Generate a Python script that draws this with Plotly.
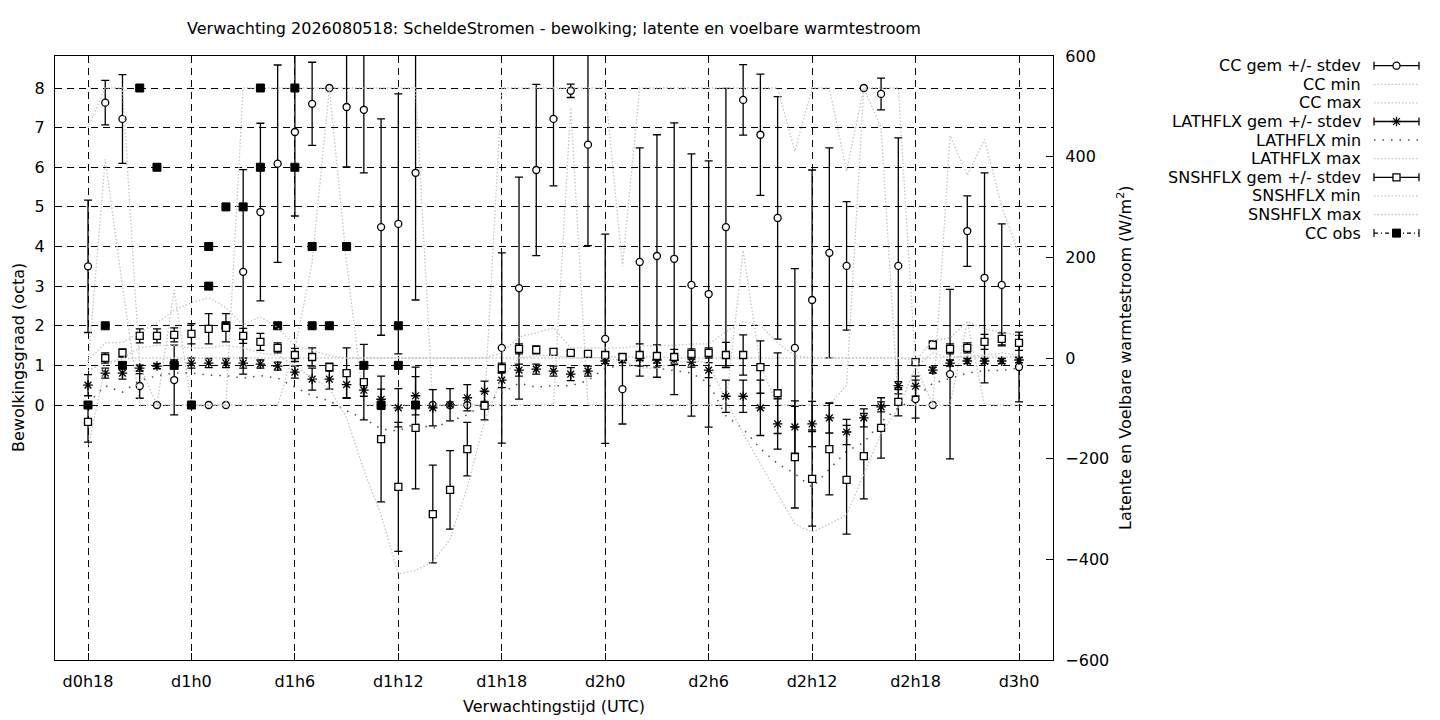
import plotly.graph_objects as go

# uren vanaf d0h0
hours = list(range(18, 73))
tick_hours = [18, 24, 30, 36, 42, 48, 54, 60, 66, 72]
tick_labels = ["d0h18", "d1h0", "d1h6", "d1h12", "d1h18", "d2h0", "d2h6", "d2h12", "d2h18", "d3h0"]

# bewolking (octa)
cc_mean = [3.5, 7.63, 7.22, 0.48, 0, 0.63, 0, 0, 0, 3.36,
           4.87, 6.09, 6.89, 7.6, 8.0, 7.52, 7.45, 4.49, 4.57, 5.86,
           0, 0, 0, 0, 1.44, 2.95, 5.93, 7.22, 7.93, 6.57,
           1.67, 0.4, 3.61, 3.76, 3.69, 3.03, 2.8, 4.49, 7.7, 6.82,
           4.72, 1.44, 2.65, 3.84, 3.51, 8.0, 7.85, 3.51, 0.15, 0,
           0.78, 4.39, 3.21, 3.03, 0.96]
cc_std = [1.67, 0.56, 1.12, 0.31, 0, 0.88, 0, 0, 0, 2.58,
          2.24, 2.49, 2.12, 1.05, 0, 1.51, 1.59, 2.73, 3.28, 3.21,
          0, 0, 0, 0, 2.4, 2.8, 2.16, 1.69, 0.17, 2.55,
          2.64, 0.88, 2.88, 3.06, 3.43, 3.31, 3.36, 3.5, 0.89, 1.53,
          3.06, 2.0, 3.28, 2.65, 1.62, 0, 0.4, 3.23, 0.48, 0,
          2.14, 0.89, 2.65, 1.54, 0.88]
cc_min = [1, 6.2, 3, 0, 0, 0, 0, 0, 0, 0,
          0, 0, 1.4, 3.6, 8, 3.6, 0, 0, 0, 0,
          0, 0, 0, 0, 0, 0, 0, 0, 7.5, 0,
          0, 0, 0, 0, 0, 0, 0, 0, 3.9, 1,
          0, 0, 0, 0, 0.5, 8, 7, 0, 0, 0,
          0, 2.1, 0, 0, 0]
cc_max = [7, 8, 8, 1, 0, 2.9, 0, 0, 0, 8,
          8, 8, 8, 8, 8, 8, 8, 8, 8, 8,
          0, 0, 0, 0, 8, 8, 8, 8, 8, 8,
          8, 3.5, 8, 8, 8, 8, 8, 8, 8, 8,
          8, 6.4, 8, 8, 5.9, 8, 8, 8, 1, 0,
          6.8, 5.8, 6.7, 5, 3.8]

# latente warmtestroom (W/m2)
lat_mean = [-54, -30, -30, -20, -16, -10, -10, -10, -10, -10,
            -12, -16, -28, -42, -42, -53, -64, -82, -99, -75,
            -99, -93, -79, -66, -44, -24, -22, -26, -32, -26,
            -6, -4, 0, -4, -4, -8, -24, -76, -76, -99,
            -131, -137, -131, -119, -147, -119, -97, -55, -56, -24,
            -10, -6, -6, -6, -4]
lat_std = [21, 10, 12, 6, 5, 6, 10, 9, 9, 10,
           8, 8, 12, 22, 20, 26, 12, 20, 38, 38,
           36, 32, 26, 20, 15, 12, 10, 10, 13, 10,
           5, 5, 5, 6, 8, 10, 15, 32, 32, 55,
           50, 52, 45, 30, 25, 18, 10, 8, 20, 6,
           6, 5, 5, 5, 5]
lat_min = [-90, -55, -68, -45, -35, -30, -30, -34, -35, -40,
           -35, -40, -58, -75, -85, -105, -120, -141, -145, -130,
           -140, -125, -113, -90, -70, -50, -58, -55, -55, -45,
           -20, -15, -15, -20, -25, -30, -50, -115, -141, -180,
           -210, -230, -257, -220, -185, -168, -127, -99, -80, -50,
           -41, -30, -25, -25, -20]
lat_max = [-25, -10, -2, 0, 0, 0, 0, 0, 0, 0,
           0, 0, 0, 0, 0, 0, 0, 0, 0, 0,
           0, 0, 0, 0, 0, 0, 0, 0, 0, 0,
           2, 2, 2, 2, 0, 0, 0, 0, 0, 0,
           0, 0, 0, 0, 0, 0, 0, 0, 0, 0,
           2, 2, 2, 2, 2]

# voelbare warmtestroom (W/m2)
sns_mean = [-127, 0, 10, 44, 44, 46, 48, 58, 60, 44,
            32, 20, 6, 2, -18, -30, -48, -161, -256, -139,
            -310, -262, -181, -95, -20, 18, 16, 12, 10, 8,
            6, 2, 6, 4, 2, 8, 10, 6, 6, -18,
            -70, -197, -240, -181, -242, -195, -139, -87, -8, 26,
            18, 20, 32, 38, 30]
sns_std = [40, 10, 8, 14, 14, 14, 20, 30, 28, 15,
           17, 10, 13, 18, 8, 50, 75, 125, 128, 121,
           97, 78, 53, 28, 10, 10, 8, 6, 4, 4,
           4, 4, 22, 22, 15, 10, 10, 25, 40, 52,
           80, 101, 94, 91, 108, 85, 60, 28, 5, 8,
           10, 10, 15, 12, 15]
sns_min = [-180, -15, 0, 20, 25, 25, 20, 20, 25, 20,
           10, 5, -15, -40, -60, -119, -223, -312, -429, -422,
           -405, -360, -257, -125, -40, 0, 5, 5, 0, 0,
           0, -5, -20, -20, -10, -5, -10, -85, -150, -210,
           -270, -330, -346, -330, -312, -230, -150, -100, -18, 10,
           0, 5, 5, 10, 5]
sns_max = [-5, 30, 31, 50, 70, 95, 110, 120, 100, 66,
           82, 60, 24, 15, 5, 0, 0, 0, 0, 0,
           0, 0, 0, 0, 10, 42, 50, 60, 20, 20,
           20, 20, 24, 25, 25, 28, 28, 52, 72, 65,
           30, 5, 0, 0, 0, 0, 0, 0, -5, 35,
           40, 72, 58, 52, 45]

# waarnemingen bewolking
obs_hours = [18, 19, 20, 21, 22, 23, 24, 25, 25, 26, 26, 27, 28, 28, 29, 30, 30, 31, 31, 32, 33, 34, 35, 36, 36, 37]
obs_cc = [0, 2, 1, 8, 6, 1, 0, 4, 3, 5, 2, 5, 8, 6, 2, 8, 6, 4, 2, 2, 4, 1, 0, 2, 1, 0]

FONT = "DejaVu Sans"
W, H = 1440, 720
L, R, T, B = 55, 1053, 56, 660   # plotgebied in pixels

light = "#c4c4c4"
dark = "#505050"
dotted = dict(color=light, width=1.3, dash="1.5px,2px")
sparse = dict(color=dark, width=1.5, dash="1.5px,7px")
eb = dict(type="data", color="black", thickness=1.3, width=4)

circle = dict(symbol="circle", size=7, color="white", line=dict(color="black", width=1.3))
star = dict(symbol="asterisk-open", size=8, color="black", line=dict(color="black", width=1.3))
square = dict(symbol="square", size=7, color="white", line=dict(color="black", width=1.3))
solid_sq = dict(symbol="square", size=8, color="black", line=dict(color="black", width=1))

fig = go.Figure()

fig.add_trace(go.Scatter(x=hours, y=cc_mean, mode="markers", marker=circle,
                         error_y=dict(array=cc_std, **eb)))
fig.add_trace(go.Scatter(x=hours, y=cc_min, mode="lines", line=dotted))
fig.add_trace(go.Scatter(x=hours, y=cc_max, mode="lines", line=dotted))
fig.add_trace(go.Scatter(x=hours, y=lat_mean, mode="markers", marker=star, yaxis="y2",
                         error_y=dict(array=lat_std, **eb)))
fig.add_trace(go.Scatter(x=hours, y=lat_min, mode="lines", line=sparse, yaxis="y2"))
fig.add_trace(go.Scatter(x=hours, y=lat_max, mode="lines", line=dotted, yaxis="y2"))
fig.add_trace(go.Scatter(x=hours, y=sns_mean, mode="markers", marker=square, yaxis="y2",
                         error_y=dict(array=sns_std, **eb)))
fig.add_trace(go.Scatter(x=hours, y=sns_min, mode="lines", line=dotted, yaxis="y2"))
fig.add_trace(go.Scatter(x=hours, y=sns_max, mode="lines", line=dotted, yaxis="y2"))
fig.add_trace(go.Scatter(x=obs_hours, y=obs_cc, mode="markers", marker=solid_sq))

# legenda in gnuplot-stijl: tekst rechts uitgelijnd, symbool erachter
leg_names = ["CC gem +/- stdev", "CC min", "CC max", "LATHFLX gem +/- stdev", "LATHFLX min",
             "LATHFLX max", "SNSHFLX gem +/- stdev", "SNSHFLX min", "SNSHFLX max", "CC obs"]
leg_kind = ["err", "line", "line", "err", "line", "line", "err", "line", "line", "obs"]
leg_marker = [circle, None, None, star, None, None, square, None, None, solid_sq]
leg_line = [None, dotted, dotted, None, sparse, dotted, None, dotted, dotted, None]
leg_y = [65.7 + 18.6 * i for i in range(len(leg_names))]
sx0, sx1 = 1374, 1419
sxm = (sx0 + sx1) / 2

tfont = dict(family=FONT, size=16, color="black")
annotations = []
for name, kind, mk, ln, yy in zip(leg_names, leg_kind, leg_marker, leg_line, leg_y):
    annotations.append(dict(x=1363, y=yy, xref="x3", yref="y3", text=name, showarrow=False,
                            xanchor="right", yanchor="middle", font=tfont))
    if kind == "line":
        fig.add_trace(go.Scatter(x=[sx0, sx1], y=[yy, yy], mode="lines", line=ln,
                                 xaxis="x3", yaxis="y3"))
    elif kind == "err":
        fig.add_trace(go.Scatter(x=[sxm], y=[yy], mode="markers", marker=mk, xaxis="x3", yaxis="y3",
                                 error_x=dict(type="constant", value=(sx1 - sx0) / 2, color="black",
                                              thickness=1.3, width=4)))
    else:
        fig.add_trace(go.Scatter(x=[sx0, sx1], y=[yy, yy], mode="lines",
                                 line=dict(color="black", width=1.2, dash="4px,3px,1px,3px"),
                                 xaxis="x3", yaxis="y3"))
        fig.add_trace(go.Scatter(x=[sx0, sx1], y=[yy, yy], mode="markers", marker=dict(size=1, opacity=0),
                                 xaxis="x3", yaxis="y3",
                                 error_y=dict(type="constant", value=4, color="black", thickness=1.2, width=0)))
        fig.add_trace(go.Scatter(x=[sxm], y=[yy], mode="markers", marker=mk, xaxis="x3", yaxis="y3"))

annotations += [
    dict(x=(L + R) / 2 / W, y=1 - 29 / H, xref="paper", yref="paper", showarrow=False,
         text="Verwachting 2026080518: ScheldeStromen - bewolking; latente en voelbare warmtestroom",
         font=tfont, xanchor="center", yanchor="middle"),
    dict(x=(L + R) / 2 / W, y=1 - 706 / H, xref="paper", yref="paper", showarrow=False,
         text="Verwachtingstijd (UTC)", font=tfont, xanchor="center", yanchor="middle"),
    dict(x=18 / W, y=1 - 358 / H, xref="paper", yref="paper", showarrow=False, textangle=-90,
         text="Bewolkingsgraad (octa)", font=tfont, xanchor="center", yanchor="middle"),
    dict(x=1124 / W, y=1 - 358 / H, xref="paper", yref="paper", showarrow=False, textangle=-90,
         text="Latente en Voelbare warmtestroom (W/m<sup>2</sup>)", font=tfont,
         xanchor="center", yanchor="middle"),
]

px_per_oct = (405 - 88) / 8.0
y_lo = -(B - 405) / px_per_oct
y_hi = 8 + (88 - T) / px_per_oct
px_per_h = (1019 - 88) / 54.0
x_lo = 18 - (88 - L) / px_per_h
x_hi = 72 + (R - 1019) / px_per_h

grid = dict(showgrid=True, gridcolor="black", gridwidth=1, griddash="7px,5px")
axline = dict(showline=True, linecolor="black", linewidth=1.3, zeroline=False, automargin=False,
              ticks="inside", tickcolor="black", ticklen=7, tickfont=tfont)

fig.update_layout(
    width=W, height=H, autosize=False,
    margin=dict(l=0, r=0, t=0, b=0, pad=0),
    paper_bgcolor="white", plot_bgcolor="white",
    showlegend=False,
    font=dict(family=FONT, size=16, color="black"),
    xaxis=dict(domain=[L / W, R / W], range=[x_lo, x_hi], tickvals=tick_hours, ticktext=tick_labels,
               mirror=True, ticklabelstandoff=7, **grid, **axline),
    yaxis=dict(domain=[1 - B / H, 1 - T / H], range=[y_lo, y_hi], tickvals=list(range(0, 9)),
               ticklabelstandoff=6, **grid, **axline),
    yaxis2=dict(overlaying="y", side="right", anchor="x", range=[-600, 600],
                tickvals=[-600, -400, -200, 0, 200, 400, 600], showgrid=False,
                ticklabelstandoff=8, **axline),
    xaxis3=dict(domain=[1150 / W, 1.0], range=[1150, 1440], visible=False, anchor="y3", automargin=False),
    yaxis3=dict(domain=[0, 1], range=[H, 0], visible=False, anchor="x3", automargin=False),
    annotations=annotations,
)

fig.write_html("out.html", config={"displayModeBar": False},
               post_script="document.body.style.margin='0px';")
